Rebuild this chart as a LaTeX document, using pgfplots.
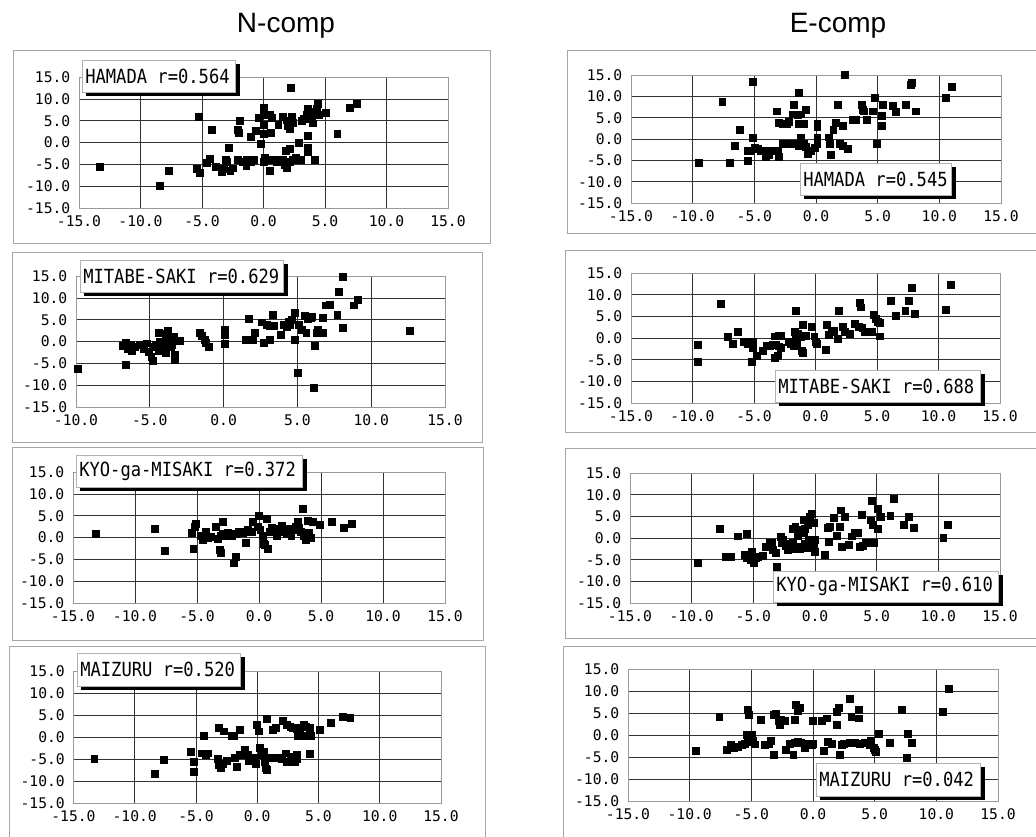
\documentclass[border=0pt]{standalone}
\usepackage{fontspec}
\setmonofont{DejaVu Sans Mono}
\newfontfamily\lblfont[FakeStretch=0.88]{DejaVu Sans Mono}
\newfontfamily\titlefont{Liberation Sans}
\usepackage{pgfplots}
\pgfplotsset{compat=1.18}
\pgfplotsset{panel/.style={scale only axis, anchor=north west,
  xmin=-15,xmax=15,ymin=-15,ymax=15,
  xtick={-15,-10,...,15}, ytick={-15,-10,...,15},
  xticklabels={-15.0,-10.0,-5.0,0.0,5.0,10.0,15.0},
  yticklabels={-15.0,-10.0,-5.0,0.0,5.0,10.0,15.0},
  grid=major, major tick length=0pt,
  tick label style={font=\ttfamily\fontsize{11}{12}\selectfont},
  xticklabel style={yshift=-2pt}, yticklabel style={xshift=-3pt},
  axis line style={draw=gray!80, line width=0.6pt},
  major grid style={draw=black!80, line width=0.45pt},
  clip mode=individual},
  pts/.style={only marks, mark=square*, black, mark size=2.6pt}}
\newcommand{\lbl}[5]{%
  \fill[black] ({#1+4},{#2+4}) rectangle ({#3+5},{#4+4});
  \filldraw[fill=white, draw=gray!60, line width=0.5pt] (#1,#2) rectangle (#3,#4);
  \node[anchor=west, font=\lblfont\fontsize{14.6}{16}\selectfont, inner sep=0pt] at ({#1+3},{(#2+#4)/2}) {#5};}
\begin{document}
\begin{tikzpicture}
\useasboundingbox (0,0) rectangle (777pt,-627pt);
% frames
\begin{scope}[x=0.75pt,y=-0.75pt]
\draw[gray!70, line width=0.7pt] (13,50) rectangle (490,243);
\draw[gray!70, line width=0.7pt] (12,252) rectangle (482,442);
\draw[gray!70, line width=0.7pt] (12,447) rectangle (483,640);
\draw[gray!70, line width=0.7pt] (9,850) -- (9,646) -- (485,646) -- (485,850);
\draw[gray!70, line width=0.7pt] (1040,50) -- (567,50) -- (567,233) -- (1040,233);
\draw[gray!70, line width=0.7pt] (1040,250) -- (565,250) -- (565,432) -- (1040,432);
\draw[gray!70, line width=0.7pt] (1040,448) -- (565,448) -- (565,638) -- (1040,638);
\draw[gray!70, line width=0.7pt] (1040,646) -- (563,646) -- (563,850);
\node[anchor=base, font=\titlefont\fontsize{21}{24}\selectfont] at (286,32) {N-comp};
\node[anchor=base, font=\titlefont\fontsize{21}{24}\selectfont] at (838,32) {E-comp};
\end{scope}
% P1
\begin{axis}[panel, at={(59.25pt,-57.75pt)}, width=276.75pt, height=98.25pt]
\addplot[pts] coordinates {(-13.3,-5.6) (-8.4,-9.9) (-7.7,-6.5) (-5.3,6.0) (-5.4,-6.0) (-5.2,-6.9) (-4.2,3.0) (-4.6,-4.7) (-4.4,-3.8) (-3.9,-5.6) (-3.4,-6.6) (-3.2,-6.0) (-3.0,-4.4) (-2.7,-6.5) (-2.5,-5.9) (-2.8,-1.3) (-3.1,-4.0) (-2.1,2.9) (-2.0,2.3) (-1.9,4.9) (-2.1,-4.0) (-1.7,-4.4) (-1.4,-4.0) (-1.4,-5.3) (-1.0,-4.4) (-0.8,-4.0) (-1.0,1.3) (-0.6,2.6) (-0.4,5.7) (-0.2,-0.2) (0.0,7.9) (0.0,6.3) (0.0,4.0) (0.0,1.9) (0.1,-3.6) (0.0,-4.4) (0.5,6.4) (0.7,5.7) (0.6,2.3) (0.5,-6.5) (0.7,-4.0) (1.1,-4.4) (1.3,-4.0) (1.2,4.0) (1.6,5.9) (1.9,5.1) (1.6,-4.0) (1.7,-5.1) (1.9,-5.7) (2.1,-4.4) (2.4,-4.0) (2.2,12.5) (2.0,3.8) (2.1,3.2) (2.3,6.0) (2.4,4.6) (1.8,-1.9) (2.1,-1.5) (2.6,-3.6) (3.0,-4.0) (2.9,-0.1) (3.1,4.9) (3.3,5.4) (3.5,6.4) (3.7,5.4) (3.9,6.1) (3.6,1.6) (3.6,-1.3) (3.6,-2.1) (3.6,7.8) (3.8,7.0) (4.2,6.6) (4.3,7.8) (4.0,4.4) (4.2,-4.0) (4.4,8.9) (4.5,6.3) (5.1,6.8) (6.0,2.1) (7.0,7.9) (7.6,8.8)};
\end{axis}
% P2
\begin{axis}[panel, at={(57pt,-207pt)}, width=276.75pt, height=98.25pt, xmin=-10, xtick={-10,-5,...,15}, xticklabels={-10.0,-5.0,0.0,5.0,10.0,15.0}]
\addplot[pts] coordinates {(-9.9,-6.3) (-6.8,-0.9) (-6.6,-0.2) (-6.5,-1.6) (-6.3,-0.7) (-6.6,-5.3) (-6.2,-2.2) (-6.0,-1.2) (-5.7,-0.8) (-5.4,-1.6) (-5.2,-0.4) (-5.1,-2.3) (-4.9,-3.5) (-4.8,-4.4) (-4.7,-1.2) (-4.6,-0.7) (-4.4,2.1) (-4.4,-2.2) (-4.3,0.0) (-4.1,-0.8) (-4.0,-1.6) (-3.9,-2.7) (-3.9,1.7) (-3.8,0.6) (-3.6,-1.2) (-3.5,-0.8) (-3.4,1.1) (-3.3,-3.1) (-3.3,-4.2) (-3.8,2.4) (-3.0,0.2) (-1.6,2.1) (-1.5,1.3) (-1.3,0.3) (-1.2,-0.2) (-1.0,-1.2) (0.1,2.6) (0.1,1.6) (0.1,-0.6) (1.5,0.3) (1.7,5.3) (2.0,0.3) (2.1,1.9) (2.6,4.4) (2.7,-0.2) (2.9,3.8) (3.1,3.5) (3.3,6.2) (3.4,3.5) (3.1,0.3) (3.9,1.6) (4.1,3.8) (4.3,3.4) (4.4,4.5) (4.5,3.8) (4.6,4.9) (4.8,6.6) (4.8,0.3) (5.0,-7.2) (5.1,3.8) (5.3,2.6) (5.5,5.9) (5.6,2.1) (5.7,5.3) (5.9,5.4) (6.0,5.6) (6.2,-0.9) (6.1,-10.7) (6.3,2.1) (6.4,2.6) (6.6,2.1) (6.7,1.9) (6.7,5.4) (6.9,8.3) (7.2,8.5) (7.7,6.2) (7.8,11.4) (8.1,14.8) (8.1,3.2) (8.8,8.3) (9.1,9.5) (12.6,2.4)};
\end{axis}
% P3
\begin{axis}[panel, at={(54.75pt,-354pt)}, width=279pt, height=98.25pt]
\addplot[pts] coordinates {(-13.2,0.8) (-8.4,1.9) (-7.6,-3.0) (-5.4,1.1) (-5.2,2.4) (-5.1,3.2) (-5.3,-2.5) (-4.7,0.5) (-4.5,-0.6) (-4.3,1.3) (-4.1,-0.1) (-3.9,0.2) (-3.5,2.4) (-3.3,-0.2) (-3.2,-2.9) (-3.1,-3.4) (-2.9,3.7) (-3.1,0.5) (-2.9,0.9) (-2.7,0.4) (-2.4,0.7) (-2.2,0.4) (-1.9,0.9) (-1.6,1.3) (-1.3,1.1) (-1.1,1.4) (-0.9,1.7) (-1.9,-4.4) (-2.0,-5.9) (-1.1,-1.1) (-0.6,1.3) (-0.5,3.6) (-0.1,2.4) (0.0,4.9) (0.1,1.7) (0.3,0.5) (0.4,-1.4) (0.5,-1.7) (0.7,-2.5) (0.6,4.3) (0.9,1.4) (1.2,1.9) (1.4,0.4) (1.6,1.3) (1.8,2.6) (2.0,2.0) (2.2,0.9) (2.4,2.0) (2.6,0.5) (2.8,1.7) (3.0,2.4) (3.2,2.2) (3.1,3.5) (3.4,1.3) (3.5,6.6) (3.6,0.4) (3.8,-0.6) (3.9,3.9) (4.0,1.1) (4.2,-0.1) (4.3,3.6) (4.9,3.0) (5.9,3.7) (6.8,2.2) (7.5,3.2) (-2.5,1.2) (1.0,2.2) (2.5,1.5)};
\end{axis}
% P4
\begin{axis}[panel, at={(55.1pt,-503.25pt)}, width=275.6pt, height=99pt]
\addplot[pts] coordinates {(-13.3,-5.0) (-8.4,-8.4) (-7.6,-5.2) (-5.4,-3.3) (-5.2,-5.6) (-5.2,-7.9) (-4.4,0.2) (-4.5,-3.7) (-4.2,-4.0) (-4.0,-3.7) (-3.1,2.1) (-2.7,1.3) (-3.2,-5.0) (-3.1,-6.3) (-3.0,-7.1) (-2.8,-6.0) (-2.5,-5.4) (-2.1,0.2) (-1.9,0.2) (-1.8,-4.8) (-1.7,-6.7) (-1.4,1.7) (-1.4,-4.0) (-1.0,-2.9) (-0.8,-4.0) (-0.7,-5.4) (-0.5,-5.0) (-0.3,-4.7) (-0.1,-6.0) (0.0,2.8) (0.1,1.3) (0.2,-2.5) (0.4,-4.0) (0.5,-3.3) (0.6,-5.6) (0.8,4.2) (0.7,-7.1) (0.8,-7.5) (1.0,-4.8) (1.3,1.7) (1.5,2.1) (1.7,-4.7) (2.0,-5.0) (2.1,3.6) (2.3,-3.7) (2.4,-5.6) (2.7,-4.8) (2.9,-4.4) (3.1,-5.6) (3.2,-4.0) (2.4,2.8) (2.7,2.4) (2.9,2.2) (3.2,1.9) (3.5,2.2) (3.8,2.7) (4.0,2.4) (4.3,2.1) (3.3,0.2) (3.6,0.2) (3.9,0.2) (4.2,0.2) (4.4,0.2) (4.3,-3.9) (5.1,1.7) (6.0,3.2) (7.0,4.7) (7.6,4.4) (3.2,-5.0)};
\end{axis}
% P5
\begin{axis}[panel, at={(473.25pt,-56.25pt)}, width=277.5pt, height=96pt]
\addplot[pts] coordinates {(-9.5,-5.5) (-7.6,8.8) (-7.0,-5.5) (-6.6,-1.5) (-6.2,2.1) (-5.5,-5.2) (-5.1,13.5) (-5.1,0.2) (-5.3,-2.7) (-5.5,-2.7) (-5.0,-2.1) (-4.7,-2.3) (-4.5,-2.7) (-4.2,-2.8) (-4.1,-4.2) (-3.8,-3.8) (-3.6,-2.7) (-3.4,-2.7) (-3.1,-2.8) (-3.0,-4.2) (-3.2,6.5) (-3.0,3.8) (-2.7,3.5) (-2.4,3.6) (-2.2,4.1) (-1.9,5.8) (-1.8,8.1) (-1.5,5.6) (-1.4,3.5) (-1.2,5.8) (-1.0,3.5) (-0.8,6.9) (-2.7,-1.2) (-2.4,-1.2) (-2.2,-1.2) (-1.9,-1.0) (-1.6,-1.2) (-1.4,-1.5) (-1.2,0.2) (-1.0,-1.2) (-0.8,-1.9) (-0.7,-3.5) (-1.4,10.8) (-0.4,-2.8) (-0.1,-2.1) (0.1,0.2) (0.1,2.8) (0.1,3.5) (0.1,-1.2) (1.0,0.4) (1.1,-1.2) (1.2,-3.8) (1.4,2.1) (1.6,3.8) (1.9,-1.2) (2.2,-1.5) (2.6,-2.3) (2.2,3.1) (1.8,8.1) (2.3,15.0) (3.0,4.4) (3.2,4.4) (3.7,8.1) (3.8,6.9) (4.1,4.4) (3.9,6.5) (4.6,6.5) (4.8,9.6) (4.9,-1.2) (5.3,5.4) (5.3,3.1) (5.4,8.1) (6.2,7.7) (6.5,6.4) (7.3,8.1) (8.1,6.5) (7.7,12.7) (7.8,13.1) (10.5,9.6) (11.0,12.3)};
\end{axis}
% P6
\begin{axis}[panel, at={(473.25pt,-204.75pt)}, width=276.75pt, height=97.5pt]
\addplot[pts] coordinates {(-9.6,-1.5) (-9.6,-5.5) (-7.7,7.9) (-7.1,0.2) (-6.7,-1.4) (-6.3,1.4) (-5.8,-0.8) (-5.5,-1.4) (-5.4,-0.9) (-5.2,-5.5) (-5.1,-2.3) (-4.8,-4.2) (-5.1,-0.8) (-4.3,-2.9) (-4.0,-1.7) (-3.7,-1.9) (-3.5,-1.5) (-3.2,-1.5) (-3.3,0.4) (-3.0,0.6) (-2.8,0.6) (-3.3,-4.6) (-3.1,-4.0) (-3.0,-1.9) (-2.8,-2.2) (-2.2,-0.9) (-2.0,-1.4) (-1.8,-1.9) (-1.6,-0.4) (-1.7,1.5) (-1.5,-1.5) (-1.4,0.9) (-1.2,0.2) (-1.1,-2.9) (-1.0,-3.5) (-0.8,0.6) (-1.0,3.1) (-1.6,6.2) (-0.3,2.5) (-0.1,0.4) (0.0,-0.8) (0.1,-1.4) (0.8,-2.7) (0.9,3.1) (1.1,0.8) (1.3,1.4) (1.5,1.7) (1.8,-0.2) (1.9,6.2) (2.2,2.5) (2.4,1.4) (2.8,0.9) (3.2,3.2) (3.5,2.7) (3.8,2.3) (4.0,1.4) (4.3,1.4) (4.6,1.4) (3.6,8.1) (3.7,7.1) (4.7,5.4) (4.9,4.5) (5.1,3.7) (5.2,3.5) (5.2,0.4) (6.1,8.5) (6.5,5.2) (7.3,6.2) (7.6,8.5) (8.1,5.5) (7.8,11.7) (10.6,6.5) (11.0,12.3)};
\end{axis}
% P7
\begin{axis}[panel, at={(472.5pt,-354.75pt)}, width=277.5pt, height=97.5pt]
\addplot[pts] coordinates {(-9.5,-5.8) (-7.7,2.1) (-7.2,-4.4) (-6.8,-4.4) (-6.3,0.4) (-5.5,1.0) (-5.7,-3.8) (-5.5,-4.6) (-5.4,-3.8) (-5.2,-5.0) (-5.1,-3.1) (-5.0,-5.8) (-4.8,-4.6) (-4.6,-4.4) (-4.2,-4.2) (-4.0,-2.1) (-3.7,-1.0) (-3.5,-1.2) (-3.4,-2.8) (-3.2,-3.5) (-3.1,-6.7) (-2.8,0.2) (-2.7,-1.2) (-2.6,-0.4) (-2.4,-1.9) (-2.2,-2.7) (-2.0,-1.3) (-1.9,-2.5) (-1.8,2.1) (-1.8,-1.0) (-1.6,2.5) (-1.5,-1.9) (-1.4,0.4) (-1.3,1.9) (-1.2,-2.5) (-1.1,-1.9) (-0.9,1.2) (-0.9,4.2) (-0.8,2.1) (-0.8,-2.3) (-0.6,3.1) (-0.5,-0.4) (-0.4,4.8) (-0.3,5.6) (-0.1,3.5) (0.0,-0.4) (-0.1,-1.8) (0.0,-3.1) (-0.5,-2.3) (-0.8,-1.3) (0.8,-3.8) (1.0,2.3) (1.1,-0.8) (1.2,2.5) (1.5,4.6) (1.8,0.5) (2.0,2.7) (2.1,6.4) (2.2,-2.1) (2.4,4.8) (2.7,-1.5) (3.0,0.4) (3.2,1.2) (3.5,1.3) (3.6,-2.1) (3.8,5.4) (3.9,-1.8) (4.1,-1.2) (4.5,4.1) (4.6,8.5) (4.7,3.1) (4.8,-1.0) (5.1,6.7) (5.3,4.8) (5.1,2.1) (6.1,5.2) (6.4,9.0) (7.2,3.1) (7.6,4.8) (8.0,2.3) (10.4,0.0) (10.8,3.1)};
\end{axis}
% P8
\begin{axis}[panel, at={(471pt,-501.75pt)}, width=277.5pt, height=99pt]
\addplot[pts] coordinates {(-9.5,-3.6) (-7.6,4.2) (-7.0,-3.4) (-6.7,-2.1) (-6.4,-3.0) (-6.1,-2.7) (-5.8,-2.3) (-5.5,-1.9) (-5.4,0.0) (-5.3,-0.4) (-5.1,-1.5) (-5.0,0.0) (-4.9,-1.4) (-4.7,-2.1) (-5.3,5.7) (-5.2,4.5) (-4.2,3.4) (-3.9,-2.3) (-3.6,-2.1) (-3.4,-1.4) (-3.2,-4.4) (-3.2,4.7) (-3.0,4.9) (-2.8,3.2) (-2.7,2.3) (-2.6,3.4) (-2.3,3.2) (-2.2,-3.4) (-1.9,-1.9) (-1.6,-4.4) (-1.5,-1.7) (-1.4,6.8) (-1.2,5.5) (-1.1,6.2) (-1.5,3.4) (-1.2,-1.5) (-1.0,-1.7) (-0.7,-3.0) (-0.5,-2.3) (-0.4,-1.9) (-0.1,-2.3) (0.0,-1.9) (0.0,3.2) (0.7,3.2) (1.1,3.8) (0.9,-3.6) (1.2,-1.5) (1.5,-1.9) (1.9,5.2) (1.9,2.3) (2.1,6.1) (2.2,-4.5) (2.3,-2.3) (2.5,-1.9) (3.0,8.3) (3.1,4.2) (3.0,-1.7) (3.4,-1.7) (3.7,5.7) (3.7,3.8) (3.8,-1.9) (4.2,-1.7) (4.6,-2.3) (4.7,-1.4) (4.9,-3.0) (5.0,-3.4) (5.1,-3.8) (5.3,0.2) (6.2,-1.7) (7.2,5.7) (7.6,-5.2) (7.7,0.2) (8.0,-1.7) (10.5,5.2) (11.0,10.5)};
\end{axis}
% labels
\begin{scope}[x=0.75pt,y=-0.75pt]
\lbl{82}{60}{235}{92}{HAMADA r=0.564}
\lbl{80}{260}{283}{292}{MITABE-SAKI r=0.629}
\lbl{76}{455}{302}{487}{KYO-ga-MISAKI r=0.372}
\lbl{77}{653}{240}{686}{MAIZURU r=0.520}
\lbl{800}{163}{951}{195}{HAMADA r=0.545}
\lbl{775}{370}{980}{402}{MITABE-SAKI r=0.688}
\lbl{773}{571}{998}{602}{KYO-ga-MISAKI r=0.610}
\lbl{816}{763}{980}{796}{MAIZURU r=0.042}
\end{scope}
\end{tikzpicture}
\end{document}
